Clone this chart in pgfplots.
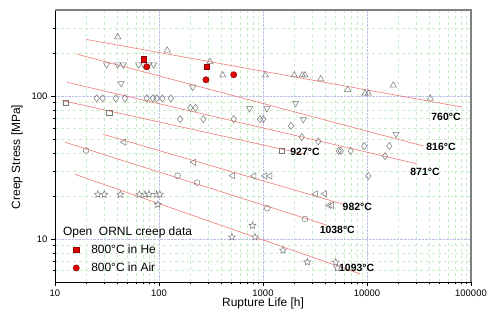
\documentclass[border=0pt]{standalone}
\usepackage{fontspec}
\setmainfont{Liberation Sans}
\usepackage{pgfplots}
\pgfplotsset{compat=1.18}
\definecolor{fitred}{RGB}{240,120,120}
\definecolor{mk}{RGB}{120,120,120}
\definecolor{majgrid}{RGB}{190,190,235}
\definecolor{mingrid}{RGB}{200,238,200}
\definecolor{redfill}{RGB}{225,0,0}
\definecolor{reddraw}{RGB}{140,0,0}
\pgfdeclareplotmark{ostar}{%
  \pgfpathmoveto{\pgfqpointpolar{90}{\pgfplotmarksize}}%
  \pgfpathlineto{\pgfqpointpolar{126}{0.45\pgfplotmarksize}}%
  \pgfpathlineto{\pgfqpointpolar{162}{\pgfplotmarksize}}%
  \pgfpathlineto{\pgfqpointpolar{198}{0.45\pgfplotmarksize}}%
  \pgfpathlineto{\pgfqpointpolar{234}{\pgfplotmarksize}}%
  \pgfpathlineto{\pgfqpointpolar{270}{0.45\pgfplotmarksize}}%
  \pgfpathlineto{\pgfqpointpolar{306}{\pgfplotmarksize}}%
  \pgfpathlineto{\pgfqpointpolar{342}{0.45\pgfplotmarksize}}%
  \pgfpathlineto{\pgfqpointpolar{18}{\pgfplotmarksize}}%
  \pgfpathlineto{\pgfqpointpolar{54}{0.45\pgfplotmarksize}}%
  \pgfpathclose
  \pgfusepathqfillstroke}
\pgfplotsset{
  gm/.style={only marks, color=mk, forget plot, line width=0.5bp},
  fit/.style={fitred, line width=0.6bp, no marks, forget plot},
}
\tikzset{tl/.style={font=\bfseries\fontsize{10.5}{12}\selectfont, inner sep=0pt}}
\begin{document}
\begin{tikzpicture}
\useasboundingbox (-55bp,-38bp) rectangle (435bp,282bp);
\begin{axis}[
  at={(0,0)}, anchor=south west,
  scale only axis, width=416bp, height=272bp,
  xmode=log, ymode=log,
  xmin=10, xmax=100000, ymin=5, ymax=400,
  axis x line=bottom, axis y line=left,
  axis line style={-, black, line width=0.6bp},
  xtick={10,100,1000,10000,100000},
  xticklabels={10,100,1000,10000,100000},
  ytick={10,100}, yticklabels={10,100},
  minor xtick={20,30,40,50,60,70,80,90,200,300,400,500,600,700,800,900,2000,3000,4000,5000,6000,7000,8000,9000,20000,30000,40000,50000,60000,70000,80000,90000},
  minor ytick={6,7,8,9,20,30,40,50,60,70,80,90,200,300},
  tick align=outside,
  major tick length=4bp, minor tick length=2.5bp,
  tick style={black, line width=0.5bp},
  grid=both,
  major grid style={densely dotted, majgrid, line width=0.6bp},
  minor grid style={dashed, mingrid, line width=0.5bp},
  tick label style={font=\fontsize{9.5}{11}\selectfont},
  label style={font=\fontsize{12}{14}\selectfont},
  xlabel={Rupture Life [h]}, ylabel={Creep Stress [MPa]},
  xlabel style={at={(axis description cs:0.5,-0.077)}, anchor=center},
  ylabel style={at={(axis description cs:-0.0913,0.46)}, anchor=center},
  clip=false,
  legend style={at={(axis description cs:0.037,0.145)}, anchor=north west,
    draw=none, fill=none, font=\fontsize{12}{14}\selectfont,
    row sep=4bp, inner sep=0pt},
  legend cell align=left,
  legend image code/.code={\path[draw=none,fill=none] (0cm,-0.1cm) (0.66cm,0.1cm); \draw[#1] plot coordinates {(0.2cm,0cm)};},
]
% fit lines
\addplot[fit] coordinates {(20,249) (81500,83.8)};
\addplot[fit] coordinates {(16.4,196) (34800,44.7)};
\addplot[fit] coordinates {(13.1,124.7) (30100,33.6)};
\addplot[fit] coordinates {(11.7,93) (2480,39.3)};
\addplot[fit] coordinates {(29.1,54) (5920,17.5)};
\addplot[fit] coordinates {(12.5,47.5) (4100,12.5)};
\addplot[fit] coordinates {(15.6,28.3) (8570,5.71)};
% 760 C
\addplot[gm, mark=triangle, mark size=3.6bp, mark options={fill=white}] coordinates {
(40.1,259) (120,209) (309,174) (410,140) (1057,140) (2000,140) (2390,140) (2535,140)
(3590,131.5) (6520,110.7) (9570,104.4) (10300,104.4) (17900,118.8) (40600,96.4)};
% 816 C
\addplot[gm, mark=triangle, mark size=3.6bp, mark options={fill=white, rotate=180}] coordinates {
(31.4,165.6) (40.1,165.6) (45.4,165.6) (63.8,165.6) (71.3,165.6) (79.6,165.6) (89.0,165.6)
(43.2,122.7) (211,115.6) (742,81.8) (1092,81.8) (2060,89.0) (2440,68.7) (19000,54.2)};
% 871 C
\addplot[gm, mark=diamond, mark size=3.6bp, mark options={fill=white}] coordinates {
(25.2,96.4) (28.7,96.4) (38.4,96.4) (47.1,96.4) (76.2,96.4) (87.5,96.4) (95.0,96.4) (107.7,96.4) (130,96.4)
(200,82.8) (225,82.8) (160,69.0) (267,69.0) (523,69.0) (935,69.0) (1006,69.0)
(1858,61.9) (2355,51.6) (3400,48.2) (5350,41.4) (5590,41.4) (6970,41.4)
(9420,44.7) (16400,44.7) (14900,38.0) (10300,27.6)};
% 927 C
\addplot[gm, mark=square, mark size=2.6bp, mark options={fill=white}] coordinates {
(12.7,90.3) (33.3,76.0) (1524,41.3)};
% 982 C
\addplot[gm, mark=triangle, mark size=3.6bp, mark options={fill=white, rotate=90}] coordinates {
(46.1,47.6) (216,34.4) (511,27.7) (819,27.6) (1045,27.6) (1167,27.6)
(3210,20.7) (3920,20.7) (4320,17.2) (4580,17.2)};
% 1038 C
\addplot[gm, mark=o, mark size=2.9bp, mark options={fill=white}] coordinates {
(19.9,41.6) (151,27.7) (232,24.8) (1099,16.4) (2535,13.8)};
% 1093 C
\addplot[gm, mark=ostar, mark size=3.6bp, mark options={fill=white}] coordinates {
(25.8,20.5) (29.8,20.5) (42.5,20.5) (64.7,20.5) (73.3,20.5) (80.1,20.5) (95.0,20.5) (102,20.5)
(97.3,17.4) (793,12.4) (503,10.3) (838,10.3) (1556,8.34) (2667,6.90) (5000,6.87) (5180,6.26)};
% 800 C in He / Air
\addplot[only marks, mark=square*, mark size=2.8bp, mark options={fill=redfill, draw=reddraw, line width=0.5bp}] coordinates {
(71.3,181) (288,160)};
\addlegendentry{800°C in He}
\addplot[only marks, mark=*, mark size=3.1bp, mark options={fill=redfill, draw=reddraw, line width=0.5bp}] coordinates {
(76.2,160) (283,130) (523,141)};
\addlegendentry{800°C in Air}
% temperature labels
\node[tl] at (axis cs:57500,71.7) {760°C};
\node[tl] at (axis cs:51500,44.0) {816°C};
\node[tl] at (axis cs:36100,29.6) {871°C};
\node[tl] at (axis cs:2535,40.6) {927°C};
\node[tl] at (axis cs:8070,16.8) {982°C};
\node[tl] at (axis cs:5180,11.5) {1038°C};
\node[tl] at (axis cs:7960,6.24) {1093°C};
\node[anchor=west, font=\fontsize{12}{14}\selectfont, inner sep=0pt] at (axis description cs:0.019,0.184) {Open\ \ ORNL creep data};
\draw[gray, line width=1.3bp] (rel axis cs:0,1) -- (rel axis cs:1,1) -- (rel axis cs:1,0);
\end{axis}
\end{tikzpicture}
\end{document}
